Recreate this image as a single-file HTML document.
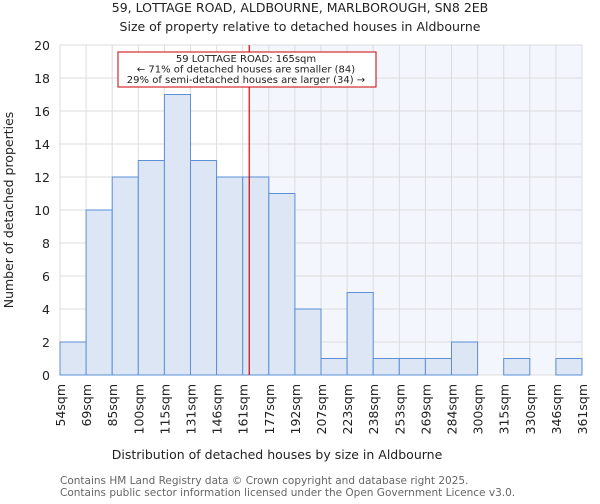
<!DOCTYPE html>
<html><head><meta charset="utf-8"><style>
body{margin:0;background:#fff;font-family:"DejaVu Sans","Liberation Sans",sans-serif;}
svg text{font-family:"DejaVu Sans","Liberation Sans",sans-serif;}
</style></head><body>
<svg id="chart" width="600" height="500">
<text x="300" y="12" text-anchor="middle" font-size="12.5" fill="#222">59, LOTTAGE ROAD, ALDBOURNE, MARLBOROUGH, SN8 2EB</text>
<text x="300" y="31" text-anchor="middle" font-size="12.5" fill="#222">Size of property relative to detached houses in Aldbourne</text>
<g id="plot"></g>
<text x="277" y="459" text-anchor="middle" font-size="12.5" fill="#222">Distribution of detached houses by size in Aldbourne</text>
<text transform="translate(13,210) rotate(-90)" text-anchor="middle" font-size="12.5" fill="#222">Number of detached properties</text>
<text x="60" y="484" font-size="10.5" fill="#666">Contains HM Land Registry data © Crown copyright and database right 2025.</text>
<text x="60" y="496" font-size="10.5" fill="#666">Contains public sector information licensed under the Open Government Licence v3.0.</text>
</svg>
<script>
const binLabels=["54sqm","69sqm","85sqm","100sqm","115sqm","131sqm","146sqm","161sqm","177sqm","192sqm","207sqm","223sqm","238sqm","253sqm","269sqm","284sqm","300sqm","315sqm","330sqm","346sqm","361sqm"];
const binEdges=[54,69,85,100,115,131,146,161,177,192,207,223,238,253,269,284,300,315,330,346,361];
const counts=[2,10,12,13,17,13,12,12,11,4,1,5,1,1,1,2,0,1,0,1];
const yTicks=[0,2,4,6,8,10,12,14,16,18,20];
const propertySize=165;

const NS="http://www.w3.org/2000/svg";
const g=document.getElementById('plot');
const L=60,R=582,T=45,B=375,yMax=20;
const nb=counts.length, bw=(R-L)/nb;
function xIdx(i){return L+i*bw;}
function xVal(v){for(let i=0;i<binEdges.length-1;i++){if(v<=binEdges[i+1]){return xIdx(i)+bw*(v-binEdges[i])/(binEdges[i+1]-binEdges[i]);}}return R;}
function y(v){return B-(B-T)*v/yMax;}
function mk(t,a,p){const e=document.createElementNS(NS,t);for(const k in a)e.setAttribute(k,a[k]);(p||g).appendChild(e);return e;}

const px=xVal(propertySize);
const shade=mk('rect',{x:px,y:T,width:R-px,height:B-T,fill:'#f3f6fd'});



yTicks.forEach(t=>{
  const l=mk('line',{x1:L,x2:R,y1:y(t),y2:y(t),stroke:'#dcdcdc','stroke-width':1});
  
  
  const tx=mk('text',{x:L-10,y:y(t)+5,'text-anchor':'end','font-size':12.5,fill:'#222'});
  tx.textContent=t;
  
  
});
binLabels.forEach((lab,i)=>{
  const l=mk('line',{x1:xIdx(i),x2:xIdx(i),y1:T,y2:B,stroke:'#dcdcdc','stroke-width':1});
  
  
  const tx=mk('text',{transform:`translate(${xIdx(i)+5},384) rotate(-90)`,'text-anchor':'end','font-size':12.5,fill:'#222'});
  tx.textContent=lab;
  
  
});
counts.forEach((c,i)=>{
  if(c<=0)return;
  const r=mk('rect',{x:xIdx(i),y:y(c),width:bw,height:B-y(c),fill:'#dce6f5',stroke:'#5b8fd6','stroke-width':1});
  
  
});
const rl=mk('line',{x1:px,x2:px,y1:T,y2:B,stroke:'#dd0000','stroke-width':1.2});



const box=mk('rect',{x:118,y:52,width:258,height:35,fill:'#fff',stroke:'#cc0000','stroke-width':1});


["59 LOTTAGE ROAD: 165sqm","← 71% of detached houses are smaller (84)","29% of semi-detached houses are larger (34) →"].forEach((s,i)=>{
  const t=mk('text',{x:246,y:62+i*10.5,'text-anchor':'middle','font-size':10,fill:'#222'});
  t.textContent=s;
  
  
});
</script>
</body></html>
